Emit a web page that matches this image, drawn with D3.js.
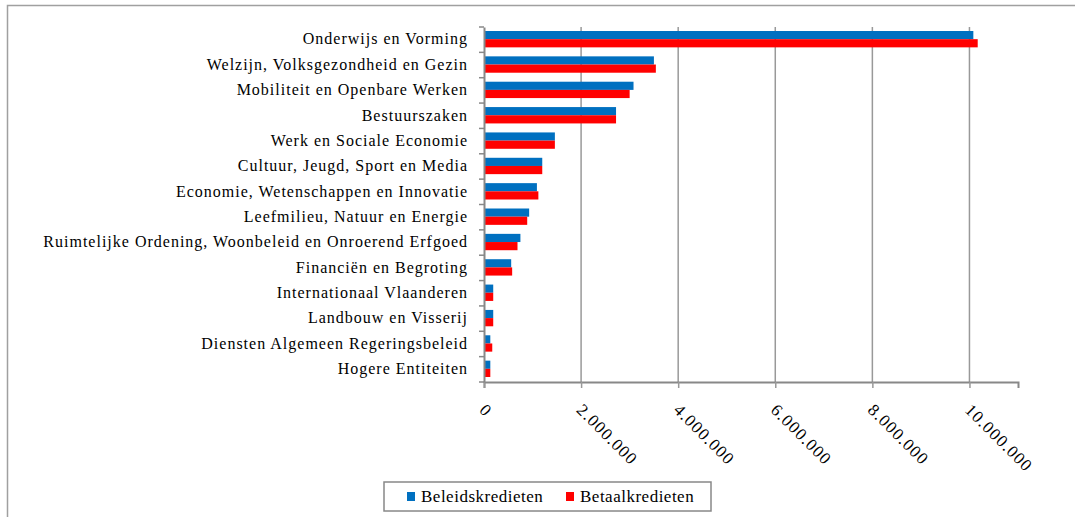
<!DOCTYPE html>
<html>
<head>
<meta charset="utf-8">
<script src="https://cdn.jsdelivr.net/npm/d3@7"></script>
</head>
<body style="margin:0">
<script>
// ---------- DATA ----------
const categories = [
	"Onderwijs en Vorming",
	"Welzijn, Volksgezondheid en Gezin",
	"Mobiliteit en Openbare Werken",
	"Bestuurszaken",
	"Werk en Sociale Economie",
	"Cultuur, Jeugd, Sport en Media",
	"Economie, Wetenschappen en Innovatie",
	"Leefmilieu, Natuur en Energie",
	"Ruimtelijke Ordening, Woonbeleid en Onroerend Erfgoed",
	"Financiën en Begroting",
	"Internationaal Vlaanderen",
	"Landbouw en Visserij",
	"Diensten Algemeen Regeringsbeleid",
	"Hogere Entiteiten",
];

const beleidskredieten = [
	10080000, 3500000, 3080000, 2720000, 1460000, 1200000, 1090000,
	930000, 750000, 560000, 190000, 190000, 130000, 130000,
];

const betaalkredieten = [
	10170000, 3540000, 3000000, 2720000, 1460000, 1200000, 1120000,
	890000, 690000, 580000, 190000, 190000, 170000, 130000,
];

const seriesNames = ["Beleidskredieten", "Betaalkredieten"];
const seriesColors = ["#0070C0", "#FF0000"];
const tickValues = [0, 2000000, 4000000, 6000000, 8000000, 10000000];

// ---------- CHART ----------
const width = 1075;
const height = 517;
const margin = { top: 27, right: 57, bottom: 135, left: 484 };
const plotW = width - margin.left - margin.right;
const plotH = height - margin.top - margin.bottom;

const svg = d3
	.select("body")
	.append("svg")
	.attr("width", width)
	.attr("height", height);

function serif(sel, size, spacing) {
	sel.attr("font-size", size)
		.style("font-family", '"Liberation Serif"')
		.style("letter-spacing", spacing + "px")
		.attr("fill", "#000");
}

// outer frame
svg.append("rect")
	.attr("x", 7.5)
	.attr("y", 5.5)
	.attr("width", width + 10)
	.attr("height", height + 10)
	.attr("fill", "none")
	.attr("stroke", "#a0a0a0")
	.attr("stroke-width", 1.5);

const g = svg.append("g").attr("transform", `translate(${margin.left},${margin.top})`);

const x = d3.scaleLinear().domain([0, 11000000]).range([0, plotW]);
const y = d3.scaleBand().domain(categories).range([0, plotH]);
const ySub = d3.scaleBand().domain(seriesNames).range([4, y.bandwidth() - 5]);

// gridlines
g.append("g")
	.selectAll("line")
	.data(tickValues.slice(1))
	.enter()
	.append("line")
	.attr("x1", (d) => x(d))
	.attr("x2", (d) => x(d))
	.attr("y1", 0)
	.attr("y2", plotH)
	.attr("stroke", "#999")
	.attr("stroke-width", 1.5);

// bars
const rows = categories.map((c, i) => ({
	cat: c,
	vals: [beleidskredieten[i], betaalkredieten[i]],
}));

const groups = g
	.selectAll(".row")
	.data(rows)
	.enter()
	.append("g")
	.attr("transform", (d) => `translate(0,${y(d.cat)})`);

groups
	.selectAll("rect")
	.data((d) => d.vals.map((v, j) => ({ v, s: seriesNames[j], c: seriesColors[j] })))
	.enter()
	.append("rect")
	.attr("x", 0)
	.attr("y", (d) => ySub(d.s))
	.attr("width", (d) => x(d.v))
	.attr("height", ySub.bandwidth())
	.attr("fill", (d) => d.c);

// x axis
const xAxis = g
	.append("g")
	.attr("transform", `translate(0,${plotH})`)
	.call(d3.axisBottom(x).tickValues(tickValues).tickSize(6).tickFormat((d) => d3.format(",")(d).replace(/,/g, ".")));

xAxis.attr("font-family", null);
xAxis.select(".domain").attr("stroke", "#888").attr("stroke-width", 2);
xAxis.selectAll(".tick line").attr("stroke", "#999").attr("stroke-width", 1.5);
xAxis
	.selectAll(".tick text")
	.call(serif, 17, 1.1)
	.attr("text-anchor", "start")
	.attr("dy", null)
	.attr("y", 0)
	.attr("transform", "translate(-6,29) rotate(45)");

// y axis
const yAxis = g.append("g").call(d3.axisLeft(y).tickSize(0).tickPadding(16));
yAxis.attr("font-family", null);
yAxis.select(".domain").attr("stroke", "#888").attr("stroke-width", 2);
yAxis
	.selectAll(".tick text")
	.call(serif, 16, 1)
	.attr("dy", "0.3em");

// category boundary ticks
g.append("g")
	.selectAll("line")
	.data(d3.range(categories.length + 1))
	.enter()
	.append("line")
	.attr("x1", -5)
	.attr("x2", 0)
	.attr("y1", (d) => d * y.step())
	.attr("y2", (d) => d * y.step())
	.attr("stroke", "#888")
	.attr("stroke-width", 1.5);

// legend
const legend = svg.append("g").attr("transform", "translate(384,482)");
legend.append("rect")
	.attr("width", 327)
	.attr("height", 29)
	.attr("fill", "#fff")
	.attr("stroke", "#888")
	.attr("stroke-width", 1.5);

const items = legend
	.selectAll(".item")
	.data(seriesNames)
	.enter()
	.append("g")
	.attr("transform", (d, i) => `translate(${i === 0 ? 23 : 182},0)`);

items.append("rect")
	.attr("x", 0)
	.attr("y", 10)
	.attr("width", 8)
	.attr("height", 9)
	.attr("fill", (d, i) => seriesColors[i]);

items.append("text")
	.attr("x", 14)
	.attr("y", 20)
	.call(serif, 17, 0.5)
	.text((d) => d);

svg.selectAll("text").each(function () { this.getComputedTextLength(); });
</script>
</body>
</html>
